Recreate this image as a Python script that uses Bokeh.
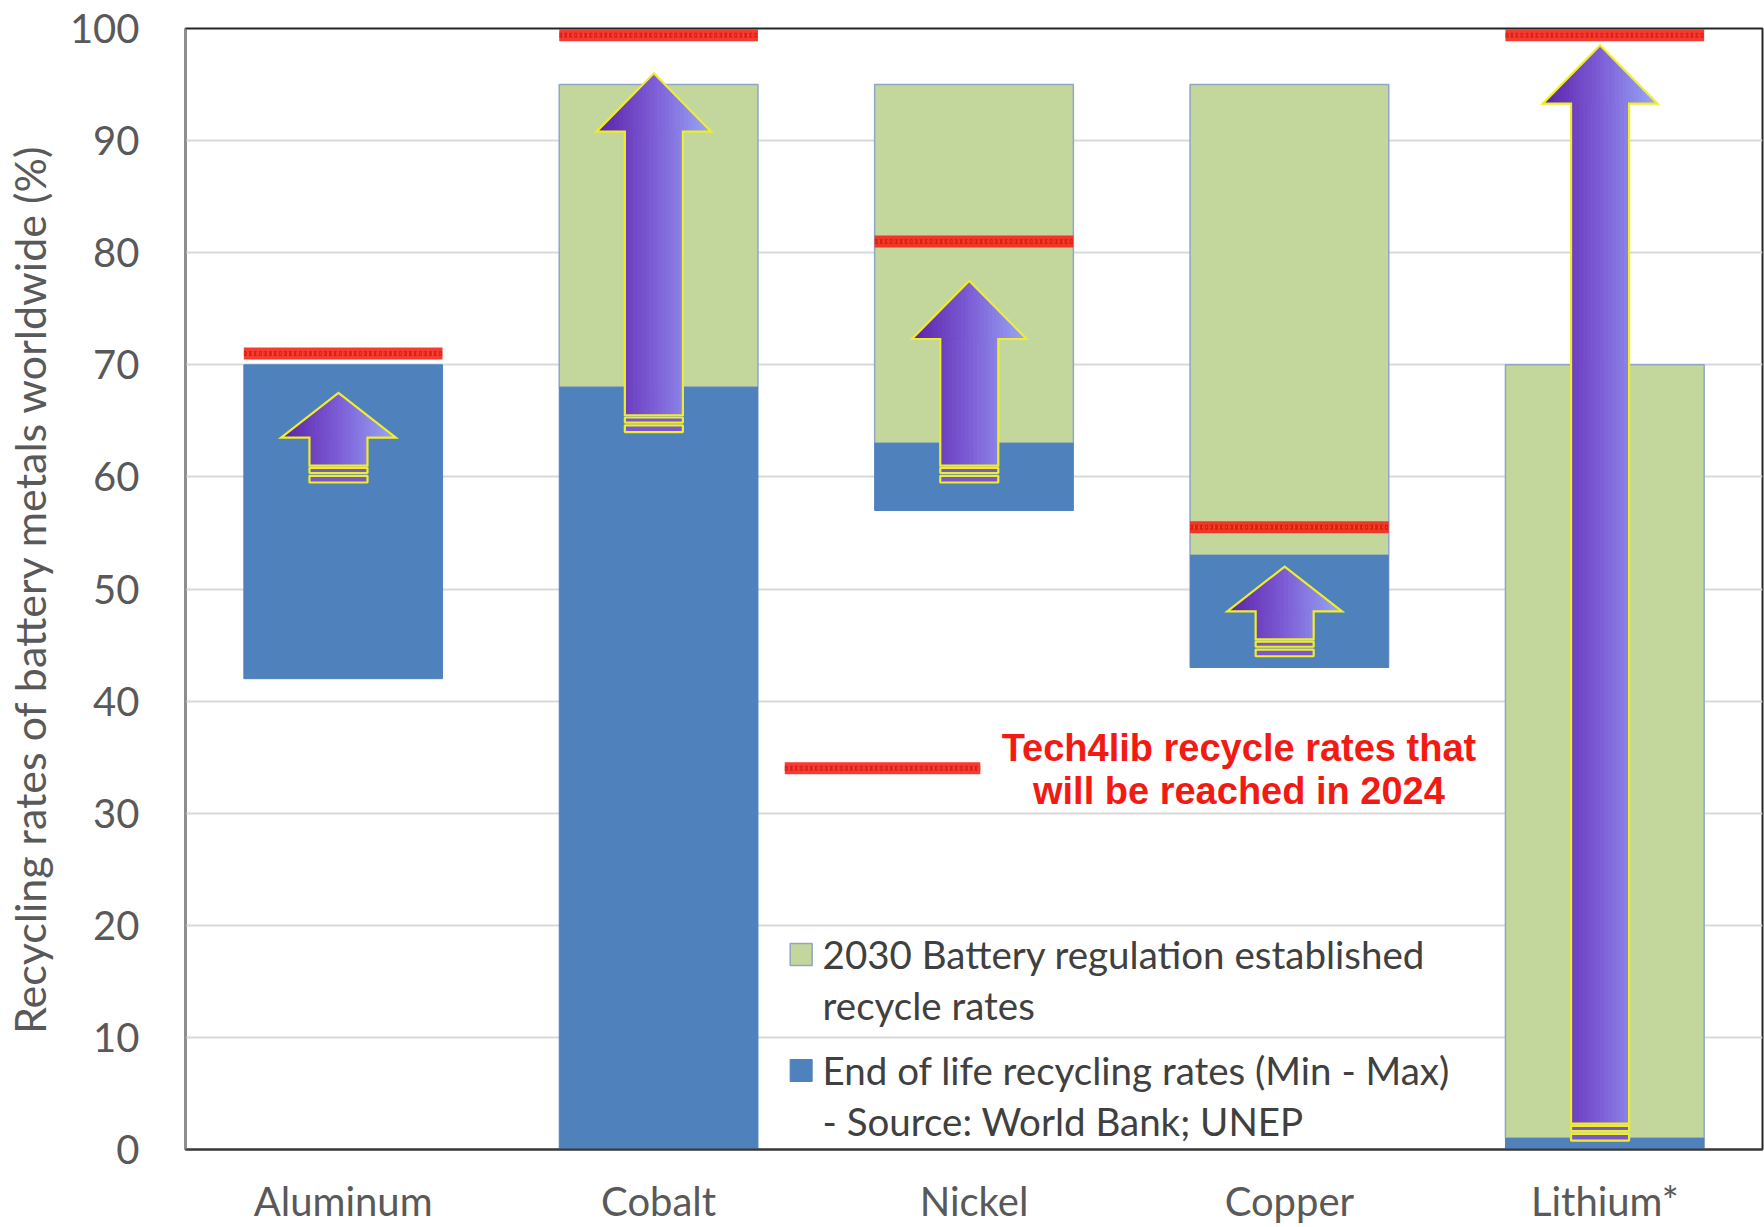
from bokeh.plotting import figure
from bokeh.models import Range1d, FixedTicker
from bokeh.embed import file_html
from bokeh.resources import INLINE
from bokeh.core.properties import value

# ---- data -------------------------------------------------------------
categories = ["Aluminum", "Cobalt", "Nickel", "Copper", "Lithium*"]
eol_min = [42, 0, 57, 43, 0]            # end-of-life recycling rate, min (%)
eol_max = [70, 68, 63, 53, 1]           # end-of-life recycling rate, max (%)
reg_2030 = [None, 95, 95, 95, 70]       # 2030 battery regulation targets (%)
tech4lib_2024 = [71, 99.4, 81, 55.5, 99.4]  # Tech4lib rates reached in 2024 (%)
arrow_from = [59.5, 64, 59.5, 44, 0.8]
arrow_to = [67.5, 96, 77.5, 52, 98.5]

legend_labels = [
    ["2030 Battery regulation established", "recycle rates"],
    ["End of life recycling rates (Min - Max)", "- Source: World Bank; UNEP"],
]
tech4lib_label = ["Tech4lib recycle rates that", "will be reached in 2024"]
y_title = "Recycling rates of battery metals worldwide (%)"

# ---- style ------------------------------------------------------------
BLUE = "#4f81bd"
GREEN = "#c3d69b"
GREEN_EDGE = "#8fa7c4"
RED = "#f5261a"
YELLOW = "#f0ee2a"
TEXT = "#595959"
FONT = "Lato"
BAR_W = 0.63

x = list(range(len(categories)))

p = figure(width=1764, height=1227,
           x_range=Range1d(-0.5, 4.5), y_range=Range1d(0, 100),
           output_backend="svg", toolbar_location=None,
           min_border_left=180, min_border_right=2,
           min_border_top=28, min_border_bottom=77)
p.background_fill_color = "white"
p.border_fill_color = "white"
p.outline_line_color = "#262626"
p.outline_line_width = 2

p.xgrid.visible = False
p.ygrid.grid_line_color = "#d9d9d9"
p.ygrid.grid_line_width = 2

p.yaxis.ticker = FixedTicker(ticks=list(range(0, 101, 10)))
p.xaxis.ticker = FixedTicker(ticks=x)
p.xaxis.major_label_overrides = {i: c for i, c in enumerate(categories)}

for ax in (p.xaxis[0], p.yaxis[0]):
    ax.major_tick_line_color = None
    ax.minor_tick_line_color = None
    ax.major_label_text_font = FONT
    ax.major_label_text_font_size = "40px"
    ax.major_label_text_color = TEXT
    ax.axis_line_width = 2
p.xaxis.axis_line_color = "#3a3a3a"
p.yaxis.axis_line_color = "#8c8c8c"
p.xaxis.major_label_standoff = 21
p.yaxis.major_label_standoff = 40
p.yaxis.axis_label = y_title
p.yaxis.axis_label_text_font = FONT
p.yaxis.axis_label_text_font_size = "43px"
p.yaxis.axis_label_text_font_style = "normal"
p.yaxis.axis_label_text_color = TEXT
p.yaxis.axis_label_standoff = 12

# ---- bars -------------------------------------------------------------
gx, gb, gt = [], [], []
for i, (lo, hi) in enumerate(zip(eol_max, reg_2030)):
    if hi is not None:
        gx.append(i); gb.append(lo); gt.append(hi)
p.vbar(x=gx, bottom=gb, top=gt, width=BAR_W, fill_color=GREEN,
       line_color=GREEN_EDGE, line_width=1.5)
p.vbar(x=x, bottom=eol_min, top=eol_max, width=BAR_W, fill_color=BLUE,
       line_color=BLUE, line_width=1)

# ---- gradient arrows --------------------------------------------------
C_LEFT = (0x5a, 0x22, 0xa6)
C_MID = (0x7d, 0x5c, 0xd6)
C_RIGHT = (0x98, 0xa8, 0xf6)


def grad(t):
    t = min(max(t, 0.0), 1.0)
    if t < 0.5:
        a, b, u = C_LEFT, C_MID, t / 0.5
    else:
        a, b, u = C_MID, C_RIGHT, (t - 0.5) / 0.5
    return "#%02x%02x%02x" % tuple(int(round(a[k] + (b[k] - a[k]) * u)) for k in range(3))


HS = 0.092   # shaft half width
HH = 0.182   # head half width
N_SHAFT = 14
N_HEAD = 30

fill_xs, fill_ys, fill_c = [], [], []
out_xs, out_ys = [], []
stripe_l, stripe_r, stripe_b, stripe_t, stripe_c = [], [], [], [], []

for i, (y0, y1) in enumerate(zip(arrow_from, arrow_to)):
    xc = i - 0.015
    hl = min(5.2, 0.5 * (y1 - y0))
    yb = y1 - hl                   # head base
    body0 = y0 + 1.5               # body starts above the tail stripes
    left, right = xc - HH, xc + HH

    # shaft strips
    for k in range(N_SHAFT):
        a = xc - HS + 2 * HS * k / N_SHAFT
        b = xc - HS + 2 * HS * (k + 1) / N_SHAFT
        fill_xs.append([a, b, b, a]); fill_ys.append([body0, body0, yb, yb])
        fill_c.append(grad(((a + b) / 2 - left) / (right - left)))

    # head strips
    def top_at(xx):
        return yb + hl * (1 - abs(xx - xc) / HH)

    for k in range(N_HEAD):
        a = left + (right - left) * k / N_HEAD
        b = left + (right - left) * (k + 1) / N_HEAD
        px = [a, b, b]
        py = [yb, yb, top_at(b)]
        if a < xc < b:
            px.append(xc); py.append(y1)
        px.append(a); py.append(top_at(a))
        fill_xs.append(px); fill_ys.append(py)
        fill_c.append(grad(((a + b) / 2 - left) / (right - left)))

    out_xs.append([xc - HS, xc + HS, xc + HS, right, xc, left, xc - HS])
    out_ys.append([body0, body0, yb, yb, y1, yb, yb])

    # tail stripes
    for sb, st in ((y0 + 0.85, y0 + 1.3), (y0, y0 + 0.6)):
        stripe_l.append(xc - HS); stripe_r.append(xc + HS)
        stripe_b.append(sb); stripe_t.append(st)
        stripe_c.append(grad(0.45))

p.patches(xs=fill_xs, ys=fill_ys, fill_color=fill_c, line_color=fill_c, line_width=1)
p.quad(left=stripe_l, right=stripe_r, bottom=stripe_b, top=stripe_t,
       fill_color=stripe_c, line_color=YELLOW, line_width=2.2)
p.patches(xs=out_xs, ys=out_ys, fill_alpha=0, line_color=YELLOW, line_width=2.2,
          line_join="miter")

# ---- Tech4lib 2024 marks ----------------------------------------------
rx0 = [i - BAR_W / 2 for i in x] + [1.40]
rx1 = [i + BAR_W / 2 for i in x] + [2.02]
ry = tech4lib_2024 + [34]
p.segment(x0=rx0, x1=rx1, y0=ry, y1=ry, line_color=RED, line_width=12, line_alpha=0.9)
p.segment(x0=rx0, x1=rx1, y0=ry, y1=ry, line_color="#c8100a", line_width=5,
          line_dash="3 2", line_alpha=0.6)
p.segment(x0=rx0, x1=rx1, y0=ry, y1=ry, line_color="#ff5a3a", line_width=2,
          line_dash="1 3", line_alpha=0.7)

p.text(x=[2.84, 2.84], y=[35.8, 32.0], text=tech4lib_label,
       text_font=value("Liberation Sans"), text_font_style="bold",
       text_font_size="38px", text_color="#f21b14",
       text_align="center", text_baseline="middle")

# ---- legend -----------------------------------------------------------
LINE_GAP = 50.6 / 11.21
leg_y = [17.4, 7.05]
p.scatter(x=[1.452], y=[leg_y[0]], marker="square", size=22,
          fill_color=GREEN, line_color=GREEN_EDGE, line_width=1.5)
p.scatter(x=[1.452], y=[leg_y[1]], marker="square", size=22,
          fill_color=BLUE, line_color=BLUE)
lt, ly = [], []
for yy, lines in zip(leg_y, legend_labels):
    for j, s in enumerate(lines):
        lt.append(s); ly.append(yy - j * LINE_GAP)
p.text(x=[1.52] * len(lt), y=ly, text=lt, text_font=value(FONT),
       text_font_size="38.5px", text_color="#404040",
       text_align="left", text_baseline="middle")

open("out.html", "w").write(file_html(p, INLINE))
